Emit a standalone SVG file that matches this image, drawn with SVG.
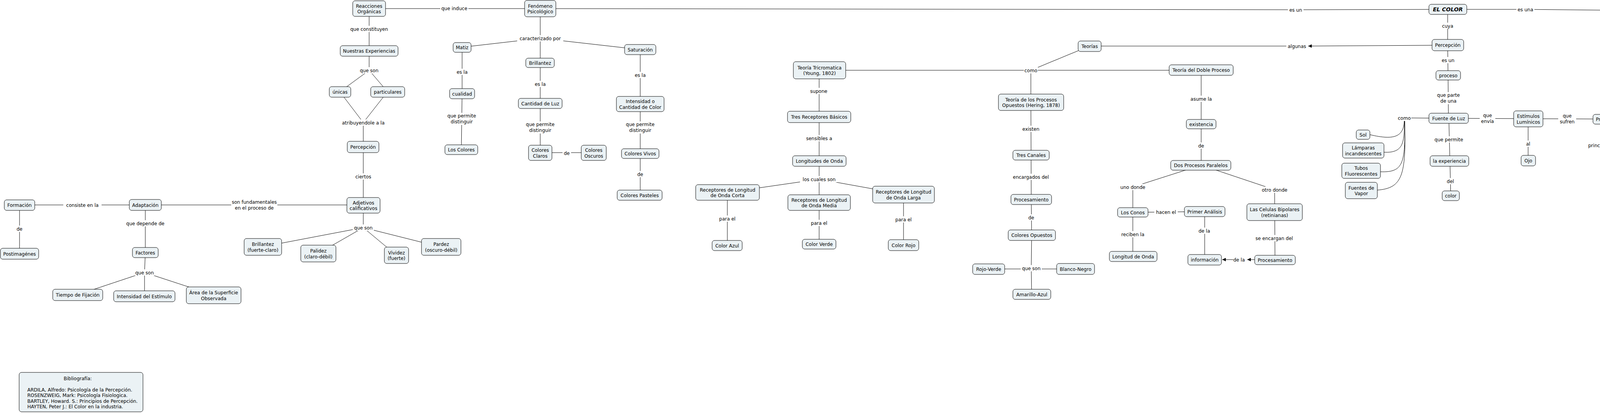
<svg xmlns="http://www.w3.org/2000/svg" width="5198" height="1058" viewBox="0 0 5198 1058">
<defs>
<style>
.n rect{fill:#ebf2f5;stroke:#000;stroke-width:1}
text{font-family:"DejaVu Sans","Liberation Sans",sans-serif;font-size:12px;fill:#000;text-anchor:middle}
.l rect{fill:#fff;stroke:none}
#connectors line,#connectors polyline,#connectors path{stroke:#000;stroke-width:1;fill:none}
.b text{font-size:14px;font-weight:bold;font-style:italic}
.bib text{text-anchor:start}
</style>
<marker id="arr" viewBox="0 0 10 10" refX="10" refY="5" markerWidth="9" markerHeight="9" orient="auto" markerUnits="userSpaceOnUse"><path d="M0,0 L10,5 L0,10 z" fill="#000"/></marker>
</defs>
<rect x="0" y="0" width="5198" height="1058" fill="#fff"/>
<g id="connectors">
<line x1="50" y1="525" x2="372" y2="525"/>
<line x1="50" y1="525" x2="50" y2="650"/>
<line x1="372" y1="525" x2="930" y2="525"/>
<line x1="372" y1="525" x2="372" y2="647"/>
<line x1="372" y1="647" x2="370" y2="698"/>
<line x1="370" y1="698" x2="199" y2="755"/>
<line x1="370" y1="698" x2="370" y2="759"/>
<line x1="370" y1="698" x2="547" y2="756"/>
<line x1="930" y1="526" x2="930" y2="583"/>
<line x1="930" y1="583" x2="673" y2="632"/>
<line x1="930" y1="583" x2="815" y2="649"/>
<line x1="930" y1="583" x2="1015" y2="654"/>
<line x1="930" y1="583" x2="1129" y2="633"/>
<line x1="945" y1="22" x2="1383" y2="22"/>
<line x1="945" y1="22" x2="945" y2="130"/>
<line x1="945" y1="130" x2="945" y2="180"/>
<line x1="945" y1="180" x2="870" y2="235"/>
<line x1="945" y1="180" x2="992" y2="235"/>
<line x1="870" y1="235" x2="930" y2="314"/>
<line x1="992" y1="235" x2="930" y2="314"/>
<line x1="930" y1="314" x2="930" y2="526"/>
<line x1="1383" y1="22" x2="1383" y2="161"/>
<line x1="1383" y1="98" x2="1183" y2="121"/>
<line x1="1383" y1="98" x2="1639" y2="127"/>
<line x1="1183" y1="121" x2="1183" y2="240"/>
<line x1="1183" y1="240" x2="1181" y2="383"/>
<line x1="1383" y1="161" x2="1383" y2="391"/>
<line x1="1383" y1="391" x2="1520" y2="391"/>
<line x1="1639" y1="127" x2="1639" y2="500"/>
<polyline points="1383,22 3317,25 3706,24"/>
<polyline points="3706,24 3905,24 4989,35"/>
<line x1="3706" y1="24" x2="3706" y2="116"/>
<line x1="3706" y1="116" x2="3707" y2="193"/>
<line x1="3707" y1="193" x2="3708" y2="303"/>
<line x1="3708" y1="303" x2="3595" y2="302"/>
<line x1="3708" y1="303" x2="3912" y2="304"/>
<line x1="3912" y1="304" x2="4112" y2="305"/>
<line x1="3709" y1="303" x2="3714" y2="501"/>
<line x1="3912" y1="304" x2="3912" y2="411"/>
<line x1="4112" y1="305" x2="4111" y2="372"/>
<line x1="4111" y1="372" x2="4301" y2="251"/>
<line x1="4111" y1="372" x2="4301" y2="294"/>
<line x1="4111" y1="372" x2="4301" y2="333"/>
<line x1="4111" y1="372" x2="4303" y2="372"/>
<line x1="4111" y1="372" x2="4304" y2="412"/>
<line x1="4111" y1="372" x2="4305" y2="451"/>
<line x1="4111" y1="372" x2="4304" y2="494"/>
<line x1="4301" y1="251" x2="4504" y2="373"/>
<line x1="4301" y1="294" x2="4504" y2="373"/>
<line x1="4301" y1="333" x2="4504" y2="373"/>
<line x1="4303" y1="372" x2="4504" y2="373"/>
<line x1="4304" y1="412" x2="4504" y2="373"/>
<line x1="4305" y1="451" x2="4504" y2="373"/>
<line x1="4304" y1="494" x2="4504" y2="373"/>
<line x1="4504" y1="373" x2="4641" y2="374"/>
<line x1="4641" y1="374" x2="4640" y2="491"/>
<line x1="4640" y1="491" x2="4637" y2="621"/>
<line x1="4637" y1="621" x2="4636" y2="726"/>
<line x1="4636" y1="726" x2="4636" y2="792"/>
<line x1="4636" y1="792" x2="4549" y2="844"/>
<line x1="4636" y1="792" x2="4716" y2="846"/>
<line x1="4549" y1="844" x2="4547" y2="949"/>
<line x1="4716" y1="846" x2="4719" y2="952"/>
<line x1="4989" y1="35" x2="4987" y2="213"/>
<line x1="4987" y1="213" x2="4988" y2="288"/>
<line x1="4988" y1="288" x2="4842" y2="325"/>
<line x1="4988" y1="288" x2="5137" y2="325"/>
<line x1="4988" y1="288" x2="4987" y2="378"/>
<line x1="4842" y1="325" x2="4842" y2="501"/>
<line x1="4987" y1="378" x2="4987" y2="496"/>
<line x1="5137" y1="325" x2="5137" y2="500"/>
<line x1="4842" y1="501" x2="4987" y2="581"/>
<line x1="4987" y1="496" x2="4987" y2="581"/>
<line x1="5137" y1="500" x2="4987" y2="581"/>
<line x1="4987" y1="581" x2="4988" y2="776"/>
<line x1="3666" y1="116" x2="3349" y2="118" marker-end="url(#arr)"/>
<line x1="3320" y1="118" x2="2790" y2="118"/>
<line x1="2789" y1="118" x2="2639" y2="180"/>
<line x1="2098" y1="180" x2="3075" y2="180"/>
<line x1="2639" y1="180" x2="2639" y2="262"/>
<line x1="2639" y1="262" x2="2640" y2="511"/>
<line x1="2640" y1="511" x2="2641" y2="602"/>
<line x1="2641" y1="602" x2="2640" y2="687"/>
<line x1="2531" y1="689" x2="2753" y2="689"/>
<line x1="2640" y1="687" x2="2641" y2="754"/>
<line x1="2097" y1="180" x2="2097" y2="412"/>
<line x1="2097" y1="412" x2="2097" y2="459"/>
<line x1="2097" y1="459" x2="1862" y2="493"/>
<line x1="2097" y1="459" x2="2313" y2="498"/>
<line x1="2097" y1="459" x2="2097" y2="519"/>
<line x1="1862" y1="493" x2="1862" y2="629"/>
<line x1="2097" y1="519" x2="2097" y2="625"/>
<line x1="2313" y1="498" x2="2313" y2="628"/>
<line x1="3075" y1="180" x2="3075" y2="423"/>
<line x1="3075" y1="423" x2="2900" y2="479"/>
<line x1="3075" y1="423" x2="3263" y2="486"/>
<line x1="2900" y1="479" x2="2900" y2="657"/>
<line x1="2900" y1="544" x2="3084" y2="542"/>
<line x1="3084" y1="542" x2="3084" y2="665"/>
<line x1="3263" y1="486" x2="3264" y2="666"/>
<line x1="3212" y1="665" x2="3193" y2="665" marker-end="url(#arr)"/>
<line x1="3157" y1="665" x2="3129" y2="665" marker-end="url(#arr)"/>
<path d="M3595,310 C3593,350 3570,360 3507,345"/>
<path d="M3595,310 C3596,370 3590,392 3543,390"/>
<path d="M3596,310 C3598,420 3592,442 3534,440"/>
<path d="M3596,310 C3600,450 3590,482 3526,487"/>
</g>
<g id="link-labels">
<g class="l"><rect x="39" y="578" width="22" height="16"/><text x="50" y="590.5">de</text></g>
<g class="l"><rect x="162" y="517" width="98" height="16"/><text x="211" y="529.5">consiste en la</text></g>
<g class="l"><rect x="592" y="510" width="118" height="31"/><text x="651" y="522"><tspan x="651">son fundamentales</tspan><tspan x="651" dy="14.5">en el proceso de</tspan></text></g>
<g class="l"><rect x="323" y="564" width="98" height="16"/><text x="372" y="576.5">que depende de</text></g>
<g class="l"><rect x="343" y="690" width="54" height="16"/><text x="370" y="702.5">que son</text></g>
<g class="l"><rect x="903" y="575" width="54" height="16"/><text x="930" y="587.5">que son</text></g>
<g class="l"><rect x="1127" y="13" width="72" height="16"/><text x="1163" y="25.5">que induce</text></g>
<g class="l"><rect x="893" y="66" width="104" height="16"/><text x="945" y="78.5">que constituyen</text></g>
<g class="l"><rect x="918" y="172" width="54" height="16"/><text x="945" y="184.5">que son</text></g>
<g class="l"><rect x="868" y="306" width="124" height="16"/><text x="930" y="318.5">atribuyendole a la</text></g>
<g class="l"><rect x="903" y="444" width="54" height="16"/><text x="930" y="456.5">ciertos</text></g>
<g class="l"><rect x="1324" y="90" width="118" height="16"/><text x="1383" y="102.5">caracterizado por</text></g>
<g class="l"><rect x="1163" y="176" width="40" height="16"/><text x="1183" y="188.5">es la</text></g>
<g class="l"><rect x="1142" y="289" width="80" height="31"/><text x="1182" y="301"><tspan x="1182">que permite</tspan><tspan x="1182" dy="14.5">distinguir</tspan></text></g>
<g class="l"><rect x="1363" y="207" width="40" height="16"/><text x="1383" y="219.5">es la</text></g>
<g class="l"><rect x="1343" y="311" width="80" height="31"/><text x="1383" y="323"><tspan x="1383">que permite</tspan><tspan x="1383" dy="14.5">distinguir</tspan></text></g>
<g class="l"><rect x="1440" y="384" width="22" height="16"/><text x="1451" y="396.5">de</text></g>
<g class="l"><rect x="1619" y="184" width="40" height="16"/><text x="1639" y="196.5">es la</text></g>
<g class="l"><rect x="1599" y="311" width="80" height="31"/><text x="1639" y="323"><tspan x="1639">que permite</tspan><tspan x="1639" dy="14.5">distinguir</tspan></text></g>
<g class="l"><rect x="1628" y="438" width="22" height="16"/><text x="1639" y="450.5">de</text></g>
<g class="l"><rect x="3297" y="17" width="40" height="16"/><text x="3317" y="29.5">es un</text></g>
<g class="l"><rect x="2073" y="225" width="46" height="16"/><text x="2096" y="237.5">supone</text></g>
<g class="l"><rect x="2058" y="346" width="78" height="16"/><text x="2097" y="358.5">sensibles a</text></g>
<g class="l"><rect x="2048" y="451" width="98" height="16"/><text x="2097" y="463.5">los cuales son</text></g>
<g class="l"><rect x="1835" y="552" width="54" height="16"/><text x="1862" y="564.5">para el</text></g>
<g class="l"><rect x="2070" y="563" width="54" height="16"/><text x="2097" y="575.5">para el</text></g>
<g class="l"><rect x="2286" y="554" width="54" height="16"/><text x="2313" y="566.5">para el</text></g>
<g class="l"><rect x="3293" y="110" width="54" height="16"/><text x="3320" y="122.5">algunas</text></g>
<g class="l"><rect x="2621" y="172" width="36" height="16"/><text x="2639" y="184.5">como</text></g>
<g class="l"><rect x="2612" y="322" width="54" height="16"/><text x="2639" y="334.5">existen</text></g>
<g class="l"><rect x="2590" y="445" width="98" height="16"/><text x="2639" y="457.5">encargados del</text></g>
<g class="l"><rect x="2629" y="549" width="22" height="16"/><text x="2640" y="561.5">de</text></g>
<g class="l"><rect x="2613" y="679" width="54" height="16"/><text x="2640" y="691.5">que son</text></g>
<g class="l"><rect x="3045" y="245" width="60" height="16"/><text x="3075" y="257.5">asume la</text></g>
<g class="l"><rect x="3064" y="365" width="22" height="16"/><text x="3075" y="377.5">de</text></g>
<g class="l"><rect x="2867" y="471" width="66" height="16"/><text x="2900" y="483.5">uno donde</text></g>
<g class="l"><rect x="3227" y="478" width="72" height="16"/><text x="3263" y="490.5">otro donde</text></g>
<g class="l"><rect x="2955" y="535" width="60" height="16"/><text x="2985" y="547.5">hacen el</text></g>
<g class="l"><rect x="2864" y="592" width="72" height="16"/><text x="2900" y="604.5">reciben la</text></g>
<g class="l"><rect x="3063" y="583" width="40" height="16"/><text x="3083" y="595.5">de la</text></g>
<g class="l"><rect x="3210" y="602" width="104" height="16"/><text x="3262" y="614.5">se encargan del</text></g>
<g class="l"><rect x="3157" y="657" width="32" height="16"/><text x="3172" y="669.5">de la</text></g>
<g class="l"><rect x="3689" y="58" width="34" height="16"/><text x="3706" y="70.5">cuya</text></g>
<g class="l"><rect x="3882" y="16" width="46" height="16"/><text x="3905" y="28.5">es una</text></g>
<g class="l"><rect x="3687" y="146" width="40" height="16"/><text x="3707" y="158.5">es un</text></g>
<g class="l"><rect x="3675" y="236" width="66" height="31"/><text x="3708" y="248"><tspan x="3708">que parte</tspan><tspan x="3708" dy="14.5">de una</tspan></text></g>
<g class="l"><rect x="3577" y="294" width="36" height="16"/><text x="3595" y="306.5">como</text></g>
<g class="l"><rect x="3788" y="288" width="40" height="31"/><text x="3808" y="300"><tspan x="3808">que</tspan><tspan x="3808" dy="14.5">envía</tspan></text></g>
<g class="l"><rect x="3989" y="289" width="46" height="31"/><text x="4012" y="301"><tspan x="4012">que</tspan><tspan x="4012" dy="14.5">sufren</tspan></text></g>
<g class="l"><rect x="3669" y="349" width="80" height="16"/><text x="3709" y="361.5">que permite</text></g>
<g class="l"><rect x="3699" y="456" width="28" height="16"/><text x="3713" y="468.5">del</text></g>
<g class="l"><rect x="3901" y="360" width="22" height="16"/><text x="3912" y="372.5">al</text></g>
<g class="l"><rect x="4064" y="364" width="94" height="16"/><text x="4111" y="376.5">principalmente</text></g>
<g class="l"><rect x="4456" y="365" width="96" height="16"/><text x="4504" y="377.5">posteriormente</text></g>
<g class="l"><rect x="4942" y="113" width="92" height="16"/><text x="4988" y="125.5">producida por</text></g>
<g class="l"><rect x="4942" y="273" width="92" height="31"/><text x="4988" y="285"><tspan x="4988">caracterizadas</tspan><tspan x="4988" dy="14.5">por</tspan></text></g>
<g class="l"><rect x="4608" y="424" width="66" height="16"/><text x="4641" y="436.5">recibe la</text></g>
<g class="l"><rect x="4598" y="546" width="78" height="16"/><text x="4637" y="558.5">que llega a</text></g>
<g class="l"><rect x="4623" y="666" width="28" height="16"/><text x="4637" y="678.5">del</text></g>
<g class="l"><rect x="4606" y="784" width="60" height="16"/><text x="4636" y="796.5">llamadas</text></g>
<g class="l"><rect x="4496" y="888" width="104" height="16"/><text x="4548" y="900.5">que responden a</text></g>
<g class="l"><rect x="4666" y="891" width="104" height="16"/><text x="4718" y="903.5">que responden a</text></g>
<g class="l"><rect x="4818" y="416" width="46" height="16"/><text x="4841" y="428.5">orgina</text></g>
<g class="l"><rect x="4954" y="436" width="66" height="16"/><text x="4987" y="448.5">determina</text></g>
<g class="l"><rect x="5109" y="413" width="54" height="16"/><text x="5136" y="425.5">Provoca</text></g>
<g class="l"><rect x="4960" y="566" width="54" height="31"/><text x="4987" y="578"><tspan x="4987">que son</tspan><tspan x="4987" dy="14.5">las</tspan></text></g>
<g class="l"><rect x="4974" y="707" width="28" height="16"/><text x="4988" y="719.5">del</text></g>
</g>
<g id="n_formacion" class="n"><rect x="11" y="512" width="78" height="27" rx="6"/><text x="50" y="530">Formación</text></g>
<g id="n_postimagenes" class="n"><rect x="1" y="636" width="98" height="28" rx="6"/><text x="50" y="654.5">Postimagénes</text></g>
<g id="n_adaptacion" class="n"><rect x="331" y="511" width="82" height="28" rx="6"/><text x="372" y="529.5">Adaptación</text></g>
<g id="n_factores" class="n"><rect x="339" y="634" width="66" height="26" rx="6"/><text x="372" y="651.5">Factores</text></g>
<g id="n_tiempo" class="n"><rect x="135" y="741" width="128" height="29" rx="6"/><text x="199" y="760">Tiempo de Fijación</text></g>
<g id="n_intensidad_estimulo" class="n"><rect x="291" y="745" width="157" height="28" rx="6"/><text x="369.5" y="763.5">Intensidad del Estímulo</text></g>
<g id="n_area" class="n"><rect x="477" y="735" width="140" height="43" rx="6"/><text x="547" y="754"><tspan x="547">Área de la Superficie</tspan><tspan x="547" dy="14.5">Observada</tspan></text></g>
<g id="n_brillantez_fc" class="n"><rect x="625" y="611" width="96" height="43" rx="6"/><text x="673" y="630"><tspan x="673">Brillantez</tspan><tspan x="673" dy="14.5">(fuerte-claro)</tspan></text></g>
<g id="n_palidez" class="n"><rect x="770" y="628" width="90" height="43" rx="6"/><text x="815" y="647"><tspan x="815">Palidez</tspan><tspan x="815" dy="14.5">(claro-débil)</tspan></text></g>
<g id="n_vividez" class="n"><rect x="984" y="633" width="62" height="42" rx="6"/><text x="1015" y="651.5"><tspan x="1015">Vividez</tspan><tspan x="1015" dy="14.5">(fuerte)</tspan></text></g>
<g id="n_pardez" class="n"><rect x="1079" y="611" width="101" height="43" rx="6"/><text x="1129.5" y="630"><tspan x="1129.5">Pardez</tspan><tspan x="1129.5" dy="14.5">(oscuro-débil)</tspan></text></g>
<g id="n_adjetivos" class="n"><rect x="888" y="506" width="85" height="40" rx="6"/><text x="930.5" y="523.5"><tspan x="930.5">Adjetivos</tspan><tspan x="930.5" dy="14.5">calificativos</tspan></text></g>
<g id="n_percepcion_izq" class="n"><rect x="889" y="362" width="81" height="29" rx="6"/><text x="929.5" y="381">Percepción</text></g>
<g id="n_unicas" class="n"><rect x="843" y="222" width="55" height="27" rx="6"/><text x="870.5" y="240">únicas</text></g>
<g id="n_particulares" class="n"><rect x="949" y="222" width="87" height="27" rx="6"/><text x="992.5" y="240">particulares</text></g>
<g id="n_experiencias" class="n"><rect x="871" y="117" width="148" height="27" rx="6"/><text x="945" y="135">Nuestras Experiencias</text></g>
<g id="n_reacciones" class="n"><rect x="903" y="2" width="84" height="40" rx="6"/><text x="945" y="19.5"><tspan x="945">Reacciones</tspan><tspan x="945" dy="14.5">Orgánicas</tspan></text></g>
<g id="n_fenomeno" class="n"><rect x="1343" y="1" width="80" height="42" rx="6"/><text x="1383" y="19.5"><tspan x="1383">Fenómeno</tspan><tspan x="1383" dy="14.5">Psicológico</tspan></text></g>
<g id="n_matiz" class="n"><rect x="1160" y="109" width="46" height="25" rx="6"/><text x="1183" y="126">Matiz</text></g>
<g id="n_cualidad" class="n"><rect x="1151" y="227" width="64" height="26" rx="6"/><text x="1183" y="244.5">cualidad</text></g>
<g id="n_los_colores" class="n"><rect x="1139" y="371" width="84" height="25" rx="6"/><text x="1181" y="388">Los Colores</text></g>
<g id="n_brillantez" class="n"><rect x="1346" y="149" width="73" height="24" rx="6"/><text x="1382.5" y="165.5">Brillantez</text></g>
<g id="n_cantidad_luz" class="n"><rect x="1327" y="252" width="112" height="26" rx="6"/><text x="1383" y="269.5">Cantidad de Luz</text></g>
<g id="n_colores_claros" class="n"><rect x="1353" y="372" width="60" height="39" rx="6"/><text x="1383" y="389"><tspan x="1383">Colores</tspan><tspan x="1383" dy="14.5">Claros</tspan></text></g>
<g id="n_colores_oscuros" class="n"><rect x="1488" y="372" width="64" height="39" rx="6"/><text x="1520" y="389"><tspan x="1520">Colores</tspan><tspan x="1520" dy="14.5">Oscuros</tspan></text></g>
<g id="n_saturacion" class="n"><rect x="1599" y="114" width="80" height="26" rx="6"/><text x="1639" y="131.5">Saturación</text></g>
<g id="n_intensidad_color" class="n"><rect x="1578" y="247" width="122" height="39" rx="6"/><text x="1639" y="264"><tspan x="1639">Intensidad o</tspan><tspan x="1639" dy="14.5">Cantidad de Color</tspan></text></g>
<g id="n_colores_vivos" class="n"><rect x="1591" y="381" width="96" height="25" rx="6"/><text x="1639" y="398">Colores Vivos</text></g>
<g id="n_colores_pasteles" class="n"><rect x="1580" y="487" width="115" height="26" rx="6"/><text x="1637.5" y="504.5">Colores Pasteles</text></g>
<g id="n_tricromatica" class="n"><rect x="2031" y="158" width="134" height="44" rx="6"/><text x="2098" y="177.5"><tspan x="2098">Teoría Tricromatica</tspan><tspan x="2098" dy="14.5">(Young, 1802)</tspan></text></g>
<g id="n_tres_receptores" class="n"><rect x="2016" y="285" width="162" height="29" rx="6"/><text x="2097" y="304">Tres Receptores Básicos</text></g>
<g id="n_longitudes" class="n"><rect x="2029" y="399" width="137" height="27" rx="6"/><text x="2097.5" y="417">Longitudes de Onda</text></g>
<g id="n_onda_corta" class="n"><rect x="1781" y="473" width="163" height="40" rx="6"/><text x="1862.5" y="490.5"><tspan x="1862.5">Receptores de Longitud</tspan><tspan x="1862.5" dy="14.5">de Onda Corta</tspan></text></g>
<g id="n_onda_media" class="n"><rect x="2017" y="499" width="160" height="40" rx="6"/><text x="2097" y="516.5"><tspan x="2097">Receptores de Longitud</tspan><tspan x="2097" dy="14.5">de Onda Media</tspan></text></g>
<g id="n_onda_larga" class="n"><rect x="2234" y="477" width="158" height="43" rx="6"/><text x="2313" y="496"><tspan x="2313">Receptores de Longitud</tspan><tspan x="2313" dy="14.5">de Onda Larga</tspan></text></g>
<g id="n_color_azul" class="n"><rect x="1823" y="616" width="77" height="26" rx="6"/><text x="1861.5" y="633.5">Color Azul</text></g>
<g id="n_color_verde" class="n"><rect x="2054" y="613" width="86" height="25" rx="6"/><text x="2097" y="630">Color Verde</text></g>
<g id="n_color_rojo" class="n"><rect x="2274" y="614" width="78" height="28" rx="6"/><text x="2313" y="632.5">Color Rojo</text></g>
<g id="n_procesos_opuestos" class="n"><rect x="2556" y="241" width="167" height="42" rx="6"/><text x="2639.5" y="259.5"><tspan x="2639.5">Teoría de los Procesos</tspan><tspan x="2639.5" dy="14.5">Opuestos (Hering, 1878)</tspan></text></g>
<g id="n_tres_canales" class="n"><rect x="2593" y="385" width="93" height="25" rx="6"/><text x="2639.5" y="402">Tres Canales</text></g>
<g id="n_procesamiento_1" class="n"><rect x="2588" y="498" width="104" height="26" rx="6"/><text x="2640" y="515.5">Procesamiento</text></g>
<g id="n_colores_opuestos" class="n"><rect x="2581" y="589" width="121" height="27" rx="6"/><text x="2641.5" y="607">Colores Opuestos</text></g>
<g id="n_rojo_verde" class="n"><rect x="2490" y="676" width="82" height="27" rx="6"/><text x="2531" y="694">Rojo-Verde</text></g>
<g id="n_blanco_negro" class="n"><rect x="2705" y="675" width="97" height="28" rx="6"/><text x="2753.5" y="693.5">Blanco-Negro</text></g>
<g id="n_amarillo_azul" class="n"><rect x="2593" y="741" width="97" height="26" rx="6"/><text x="2641.5" y="758.5">Amarillo-Azul</text></g>
<g id="n_teorias" class="n"><rect x="2760" y="105" width="59" height="27" rx="6"/><text x="2789.5" y="123">Teorías</text></g>
<g id="n_doble_proceso" class="n"><rect x="2993" y="166" width="164" height="27" rx="6"/><text x="3075" y="184">Teoría del Doble Proceso</text></g>
<g id="n_existencia" class="n"><rect x="3037" y="306" width="76" height="24" rx="6"/><text x="3075" y="322.5">existencia</text></g>
<g id="n_dos_procesos" class="n"><rect x="2997" y="411" width="154" height="25" rx="6"/><text x="3074" y="428">Dos Procesos Paralelos</text></g>
<g id="n_los_conos" class="n"><rect x="2861" y="532" width="78" height="24" rx="6"/><text x="2900" y="548.5">Los Conos</text></g>
<g id="n_primer_analisis" class="n"><rect x="3032" y="529" width="104" height="26" rx="6"/><text x="3084" y="546.5">Primer Análisis</text></g>
<g id="n_bipolares" class="n"><rect x="3192" y="522" width="142" height="43" rx="6"/><text x="3263" y="541"><tspan x="3263">Las Celulas Bipolares</tspan><tspan x="3263" dy="14.5">(retinianas)</tspan></text></g>
<g id="n_longitud_onda_1" class="n"><rect x="2840" y="644" width="122" height="26" rx="6"/><text x="2901" y="661.5">Longitud de Onda</text></g>
<g id="n_informacion_1" class="n"><rect x="3041" y="652" width="86" height="27" rx="6"/><text x="3084" y="670">información</text></g>
<g id="n_procesamiento_2" class="n"><rect x="3212" y="654" width="104" height="24" rx="6"/><text x="3264" y="670.5">Procesamiento</text></g>
<g id="n_sol" class="n"><rect x="3472" y="333" width="35" height="24" rx="6"/><text x="3489.5" y="349.5">Sol</text></g>
<g id="n_lamparas" class="n"><rect x="3437" y="366" width="106" height="39" rx="6"/><text x="3490" y="383"><tspan x="3490">Lámparas</tspan><tspan x="3490" dy="14.5">incandescentes</tspan></text></g>
<g id="n_tubos" class="n"><rect x="3435" y="418" width="99" height="39" rx="6"/><text x="3484.5" y="435"><tspan x="3484.5">Tubos</tspan><tspan x="3484.5" dy="14.5">Fluorescentes</tspan></text></g>
<g id="n_fuentes_vapor" class="n"><rect x="3444" y="467" width="82" height="42" rx="6"/><text x="3485" y="485.5"><tspan x="3485">Fuentes de</tspan><tspan x="3485" dy="14.5">Vapor</tspan></text></g>
<g id="n_el_color" class="n b"><rect x="3658" y="11" width="97" height="26" rx="6"/><text x="3706.5" y="29">EL COLOR</text></g>
<g id="n_percepcion" class="n"><rect x="3666" y="101" width="81" height="29" rx="6"/><text x="3706.5" y="120">Percepción</text></g>
<g id="n_proceso" class="n"><rect x="3676" y="181" width="63" height="24" rx="6"/><text x="3707.5" y="197.5">proceso</text></g>
<g id="n_fuente_luz" class="n"><rect x="3658" y="290" width="101" height="26" rx="6"/><text x="3708.5" y="307.5">Fuente de Luz</text></g>
<g id="n_experiencia" class="n"><rect x="3661" y="399" width="99" height="27" rx="6"/><text x="3710.5" y="417">la experiencia</text></g>
<g id="n_color_exp" class="n"><rect x="3692" y="489" width="44" height="25" rx="6"/><text x="3714" y="506">color</text></g>
<g id="n_estimulos" class="n"><rect x="3875" y="284" width="75" height="41" rx="6"/><text x="3912.5" y="302"><tspan x="3912.5">Estímulos</tspan><tspan x="3912.5" dy="14.5">Lumínicos</tspan></text></g>
<g id="n_ojo" class="n"><rect x="3894" y="398" width="37" height="27" rx="6"/><text x="3912.5" y="416">Ojo</text></g>
<g id="n_procesos" class="n"><rect x="4078" y="293" width="68" height="25" rx="6"/><text x="4112" y="310">Procesos</text></g>
<g id="n_transmision" class="n"><rect x="4257" y="238" width="89" height="27" rx="6"/><text x="4301.5" y="256">Transmisión</text></g>
<g id="n_absorcion" class="n"><rect x="4264" y="280" width="75" height="28" rx="6"/><text x="4301.5" y="298.5">Absorción</text></g>
<g id="n_reflexion" class="n"><rect x="4266" y="320" width="71" height="27" rx="6"/><text x="4301.5" y="338">Reflexión</text></g>
<g id="n_refraccion" class="n"><rect x="4264" y="359" width="79" height="27" rx="6"/><text x="4303.5" y="377">Refracción</text></g>
<g id="n_difusion" class="n"><rect x="4272" y="399" width="65" height="27" rx="6"/><text x="4304.5" y="417">Difusión</text></g>
<g id="n_difraccion" class="n"><rect x="4268" y="438" width="75" height="27" rx="6"/><text x="4305.5" y="456">Difracción</text></g>
<g id="n_interferencia" class="n"><rect x="4259" y="482" width="91" height="25" rx="6"/><text x="4304.5" y="499">Interferencia</text></g>
<g id="n_organo" class="n"><rect x="4590" y="352" width="102" height="45" rx="6"/><text x="4641" y="372"><tspan x="4641">El Órgano</tspan><tspan x="4641" dy="14.5">Receptor (ojo)</tspan></text></g>
<g id="n_informacion_2" class="n"><rect x="4597" y="478" width="87" height="27" rx="6"/><text x="4640.5" y="496">Información</text></g>
<g id="n_celulas" class="n"><rect x="4564" y="608" width="147" height="27" rx="6"/><text x="4637.5" y="626">Celulas Especializadas</text></g>
<g id="n_color_cel" class="n"><rect x="4612" y="713" width="47" height="26" rx="6"/><text x="4635.5" y="730.5">Color</text></g>
<g id="n_conos" class="n"><rect x="4523" y="832" width="52" height="25" rx="6"/><text x="4549" y="849">Conos</text></g>
<g id="n_bastones" class="n"><rect x="4681" y="834" width="71" height="24" rx="6"/><text x="4716.5" y="850.5">Bastones</text></g>
<g id="n_escala_colores" class="n"><rect x="4486" y="928" width="123" height="43" rx="6"/><text x="4547.5" y="947"><tspan x="4547.5">Escala de Colores</tspan><tspan x="4547.5" dy="14.5">(actividad diurna)</tspan></text></g>
<g id="n_escala_gris" class="n"><rect x="4654" y="931" width="130" height="43" rx="6"/><text x="4719" y="950"><tspan x="4719">Escala de Gris</tspan><tspan x="4719" dy="14.5">(actividad noctura)</tspan></text></g>
<g id="n_sensacion" class="n"><rect x="4949" y="14" width="80" height="42" rx="6"/><text x="4989" y="32.5"><tspan x="4989">Sensación</tspan><tspan x="4989" dy="14.5">Visual</tspan></text></g>
<g id="n_radiaciones" class="n"><rect x="4943" y="194" width="87" height="39" rx="6"/><text x="4986.5" y="211"><tspan x="4986.5">Radiaciones</tspan><tspan x="4986.5" dy="14.5">Luminosas</tspan></text></g>
<g id="n_longitud_onda_2" class="n"><rect x="4808" y="306" width="68" height="39" rx="6"/><text x="4842" y="323"><tspan x="4842">Longitud</tspan><tspan x="4842" dy="14.5">de Onda</tspan></text></g>
<g id="n_contenido" class="n"><rect x="4949" y="350" width="77" height="57" rx="6"/><text x="4987.5" y="368.5"><tspan x="4987.5">Contenido</tspan><tspan x="4987.5" dy="14.5">Total de</tspan><tspan x="4987.5" dy="14.5">Energía</tspan></text></g>
<g id="n_pureza" class="n"><rect x="5080" y="312" width="114" height="27" rx="6"/><text x="5137" y="330">Pureza Espectral</text></g>
<g id="n_el_matiz" class="n"><rect x="4811" y="488" width="62" height="26" rx="6"/><text x="4842" y="505.5">El Matiz</text></g>
<g id="n_la_brillantez" class="n"><rect x="4943" y="477" width="89" height="39" rx="6"/><text x="4987.5" y="494"><tspan x="4987.5">La Brillantez</tspan><tspan x="4987.5" dy="14.5">o Valor</tspan></text></g>
<g id="n_la_saturacion" class="n"><rect x="5088" y="487" width="98" height="27" rx="6"/><text x="5137" y="505">La Saturación</text></g>
<g id="n_principales" class="n"><rect x="4902" y="641" width="173" height="29" rx="6"/><text x="4988.5" y="660">Principales Características</text></g>
<g id="n_color_final" class="n"><rect x="4964" y="764" width="47" height="25" rx="6"/><text x="4987.5" y="781">Color</text></g>
<g id="n_bibliografia" class="n bib"><rect x="49" y="954" width="317" height="101" rx="6"/><text x="163" y="973.5">Bibliografía:</text><text x="70" y="1002.5">ARDILA, Alfredo: Psicología de la Percepción.</text><text x="70" y="1017">ROSENZWEIG, Mark: Psicología Fisiologica.</text><text x="70" y="1031.5">BARTLEY, Howard. S.: Principios de Percepción.</text><text x="70" y="1046">HAYTEN, Peter J.: El Color en la industria.</text></g>
</svg>
